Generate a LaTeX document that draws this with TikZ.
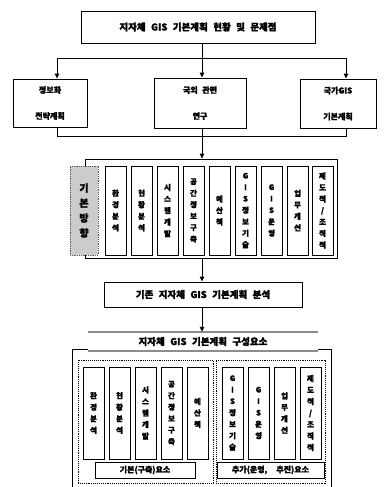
\documentclass[tikz,border=0pt]{standalone}
\usepackage{fontspec}
\newfontfamily\kr{Noto Sans CJK KR}[FakeBold=1.6]
\newfontfamily\krw{Noto Sans CJK KR}[WordSpace=4.2,FakeBold=1.6]
\newfontfamily\krm{Noto Sans CJK KR}[WordSpace=2.5,FakeBold=1.6]
\usetikzlibrary{arrows.meta}
\tikzset{
  ln/.style={line width=0.9pt, draw=black},
  arr/.style={ln, -{Triangle[length=5pt,width=4.5pt]}},
  box/.style={draw, line width=0.9pt, inner sep=0pt, fill=white,
    font=\krw\bfseries\fontsize{9.5}{12}\selectfont},
  sbox/.style={draw, line width=0.9pt, inner sep=0pt, fill=white, align=center,
    font=\krm\bfseries\fontsize{8}{26}\selectfont},
  frame/.style={draw, line width=0.8pt, inner sep=0pt},
  col/.style={draw, line width=0.8pt, inner sep=0pt, fill=white, align=center,
    minimum width=21pt, font=\kr\bfseries\fontsize{7.5}{11.5}\selectfont},
  shd/.style={draw=black!65, densely dotted, line width=0.8pt, fill=black!20, inner sep=0pt,
    align=center, font=\kr\bfseries\fontsize{10}{15}\selectfont},
  stip/.style={line width=2.2pt, draw=black!45},
  dotbox/.style={draw, densely dotted, line width=0.9pt, inner sep=0pt},
  lbox/.style={draw, line width=0.9pt, inner sep=0pt, fill=white,
    font=\kr\bfseries\fontsize{8}{10}\selectfont},
}
\begin{document}
\begin{tikzpicture}[x=1pt,y=-1pt]
\useasboundingbox (0,0) rectangle (385,487);
\fill[white] (0,0) rectangle (385,487);

% level 1
\node[box, minimum width=234, minimum height=32] (top) at (198,27) {지자체 GIS 기본계획 현황 및 문제점};
% level 2
\node[sbox, minimum width=74, minimum height=48] (l) at (50,103) {정보화\\전략계획};
\node[sbox, minimum width=92, minimum height=50] (m) at (200,103) {국외 관련\\연구};
\node[sbox, minimum width=76, minimum height=49] (r) at (338,103.5) {국가GIS\\기본계획};

\coordinate (j) at (202,58);
\coordinate (jl) at (57,58);
\coordinate (jr) at (346,58);
\draw[ln] (top.south -| j) -- (j);
\draw[ln] (jl) -- (jr);
\draw[arr] (jl) -- (jl |- l.north);
\draw[arr] (j) -- (j |- m.north);
\draw[arr] (jr) -- (jr |- r.north);

% level 3 : basic directions
\coordinate (kl) at (57,136);
\coordinate (kr) at (346,136);
\draw[ln] (l.south -| kl) -- (kl) -- (kr) -- (r.south -| kr);
\node[frame, minimum width=252, minimum height=99] (f2) at (211,208.5) {};
\draw[arr] (m.south -| j) -- (f2.north -| j);
\node[shd, minimum width=28, minimum height=89] (kb) at (84,210.5) {기\\본\\방\\향};
\foreach \i/\x/\t in {
  1/105/{환\\경\\분\\석},
  2/131/{현\\황\\분\\석},
  3/157/{시\\스\\템\\개\\발},
  4/183/{공\\간\\정\\보\\구\\축},
  5/209/{예\\산\\책},
  6/235/{G\\I\\S\\정\\보\\기\\술},
  7/261/{G\\I\\S\\운\\영},
  8/287/{업\\무\\개\\선},
  9/312/{제\\도\\적\\/\\조\\직\\적}}{
  \node[col, minimum height=89] (c\i) at (\x+10.5,210.5) {\t};
}

% level 4
\node[box, minimum width=198, minimum height=25] (b3) at (203,294.5) {기존 지자체 GIS 기본계획 분석};
\draw[arr] (f2.south -| j) -- (b3.north -| j);

% level 5 : components
\node[inner sep=0pt, minimum width=230, minimum height=19,
  font=\krw\bfseries\fontsize{9.5}{12}\selectfont] (band) at (203,341.5) {지자체 GIS 기본계획 구성요소};
\draw[stip] (band.north west) -- (band.north east);
\draw[stip] (band.south west) -- (band.south east);
\draw[arr] (b3.south -| j) -- (band.north -| j);

\coordinate (fl) at (72,349);
\coordinate (fr) at (331,349);
\coordinate (flb) at (72,487);
\coordinate (frb) at (331,487);
\draw[ln] (band.south west |- fl) -- (fl) -- (flb);
\draw[ln] (band.south east |- fr) -- (fr) -- (frb);

\node[dotbox, minimum width=135, minimum height=123] (dl) at (145.5,421.5) {};
\node[dotbox, minimum width=109, minimum height=123] (dr) at (270.5,421.5) {};

\foreach \i/\x/\t in {
  1/83/{환\\경\\분\\석},
  2/109/{현\\황\\분\\석},
  3/135/{시\\스\\템\\개\\발},
  4/161/{공\\간\\정\\보\\구\\축},
  5/187/{예\\산\\책},
  6/222/{G\\I\\S\\정\\보\\기\\술},
  7/248/{G\\I\\S\\운\\영},
  8/274/{업\\무\\개\\선},
  9/300/{제\\도\\적\\/\\조\\직\\적}}{
  \node[col, minimum height=92] (d\i) at (\x+10.5,413) {\t};
}

\node[lbox, minimum width=100, minimum height=16] (la) at (145,470) {기본(구축)요소};
\node[lbox, minimum width=107, minimum height=16] (lb) at (270.5,470) {추가(운영,\kern-2.5pt{} 추진)요소};
\end{tikzpicture}
\end{document}
